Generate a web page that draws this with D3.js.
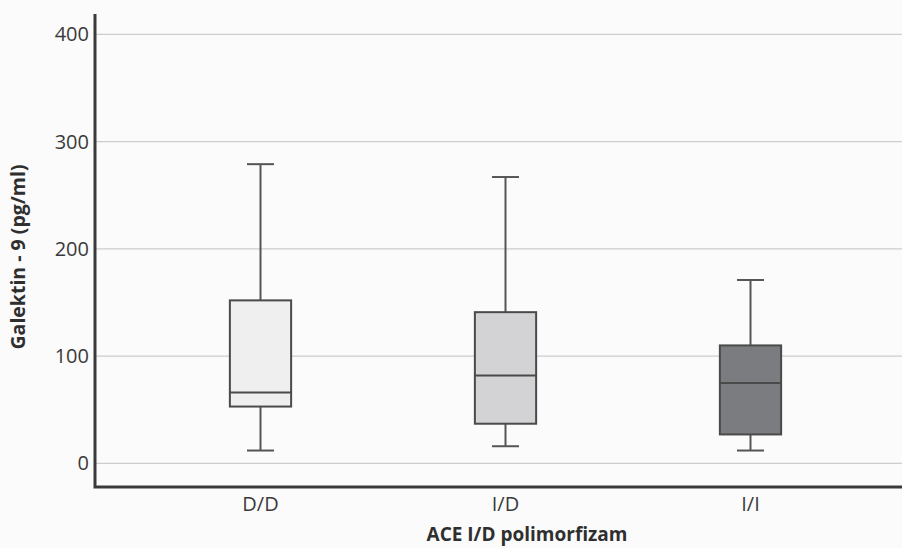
<!DOCTYPE html>
<html>
<head>
<meta charset="utf-8">
<script src="https://cdn.jsdelivr.net/npm/d3@7"></script>
<style>
  html, body { margin: 0; padding: 0; background: #fbfbfb; }
  svg { display: block; }
</style>
</head>
<body>
<svg id="chart" width="902" height="548"></svg>
<script>
const categories = ["D/D", "I/D", "I/I"];
const whiskerLow = [12, 16, 12];
const q1 = [53, 37, 27];
const median = [66, 82, 75];
const q3 = [152, 141, 110];
const whiskerHigh = [279, 267, 171];
const boxFills = ["#efefef", "#d3d3d5", "#7b7c80"];
const yTicks = [0, 100, 200, 300, 400];
const yTitle = "Galektin - 9 (pg/ml)";
const xTitle = "ACE I/D polimorfizam";

const W = 902, H = 548;
const axisLeft = 95, axisRight = 902, axisTop = 14, axisBottom = 487;
const font = "'Open Sans', 'Noto Sans', sans-serif";

const svg = d3.select("#chart");
svg.append("rect").attr("width", W).attr("height", H).attr("fill", "#fbfbfb");

const x = d3.scaleBand().domain(categories).range([138, 873]).padding(0);
const y = d3.scaleLinear().domain([-22, 419]).range([axisBottom, axisTop]);

// gridlines
svg.append("g").selectAll("line").data(yTicks).join("line")
  .attr("x1", axisLeft).attr("x2", axisRight)
  .attr("y1", d => y(d)).attr("y2", d => y(d))
  .attr("stroke", "#cdcdcd").attr("stroke-width", 1.3);

// y axis tick labels
const yAxis = d3.axisLeft(y).tickValues(yTicks).tickSize(0).tickPadding(6);
const gy = svg.append("g").attr("transform", `translate(${axisLeft},0)`).call(yAxis);
gy.select(".domain").remove();
gy.selectAll("text").attr("font-family", font).attr("font-size", 20)
  .attr("fill", "#3a3a3a");

// x axis tick labels
const xAxis = d3.axisBottom(x).tickSize(0).tickPadding(10);
const gx = svg.append("g").attr("transform", `translate(0,${axisBottom})`).call(xAxis);
gx.select(".domain").remove();
gx.selectAll("text").attr("font-family", font).attr("font-size", 20)
  .attr("fill", "#3a3a3a");

// boxes
const data = categories.map((c, i) => ({
  c, lo: whiskerLow[i], q1: q1[i], med: median[i], q3: q3[i], hi: whiskerHigh[i], fill: boxFills[i]
}));
const bw = x.bandwidth() * 0.25;
const cw = x.bandwidth() * 0.11;
const stroke = "#4a4a4a";

const g = svg.append("g").selectAll("g").data(data).join("g")
  .attr("transform", d => `translate(${x(d.c) + x.bandwidth() / 2},0)`);

g.append("line").attr("x1", 0).attr("x2", 0)
  .attr("y1", d => y(d.hi)).attr("y2", d => y(d.q3))
  .attr("stroke", "#555").attr("stroke-width", 2);
g.append("line").attr("x1", 0).attr("x2", 0)
  .attr("y1", d => y(d.q1)).attr("y2", d => y(d.lo))
  .attr("stroke", "#555").attr("stroke-width", 2);
g.append("line").attr("x1", -cw / 2).attr("x2", cw / 2)
  .attr("y1", d => y(d.hi)).attr("y2", d => y(d.hi))
  .attr("stroke", "#555").attr("stroke-width", 2);
g.append("line").attr("x1", -cw / 2).attr("x2", cw / 2)
  .attr("y1", d => y(d.lo)).attr("y2", d => y(d.lo))
  .attr("stroke", "#555").attr("stroke-width", 2);
g.append("rect").attr("x", -bw / 2).attr("width", bw)
  .attr("y", d => y(d.q3)).attr("height", d => y(d.q1) - y(d.q3))
  .attr("fill", d => d.fill).attr("stroke", stroke).attr("stroke-width", 2);
g.append("line").attr("x1", -bw / 2).attr("x2", bw / 2)
  .attr("y1", d => y(d.med)).attr("y2", d => y(d.med))
  .attr("stroke", stroke).attr("stroke-width", 2);

// axis lines
svg.append("path")
  .attr("d", `M${axisLeft},${axisTop}V${axisBottom}H${axisRight}`)
  .attr("fill", "none").attr("stroke", "#3a3a3a").attr("stroke-width", 3);

// titles
svg.append("text").attr("transform", "translate(25,257) rotate(-90)")
  .attr("text-anchor", "middle").attr("font-family", font)
  .attr("font-weight", "bold").attr("font-size", 19.5).attr("fill", "#2f2f2f")
  .text(yTitle);
svg.append("text").attr("x", 527).attr("y", 541)
  .attr("text-anchor", "middle").attr("font-family", font)
  .attr("font-weight", "bold").attr("font-size", 19).attr("fill", "#2f2f2f")
  .text(xTitle);
</script>
</body>
</html>
